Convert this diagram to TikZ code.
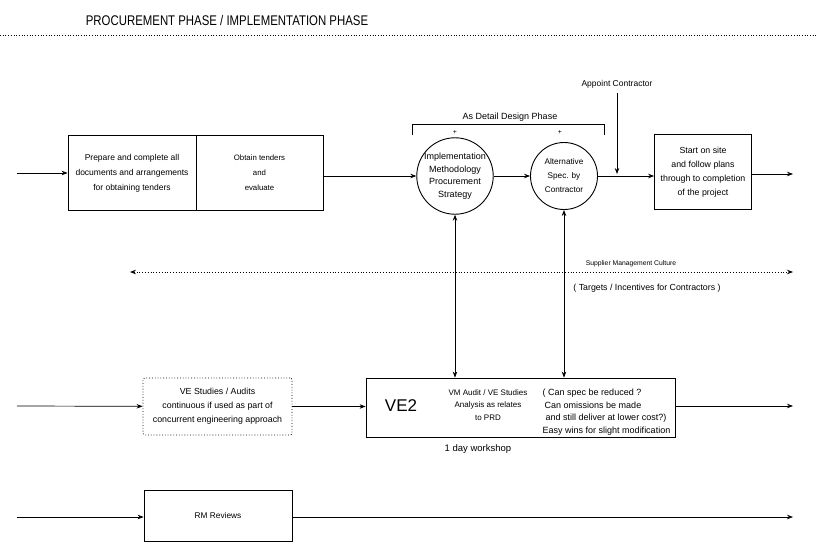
\documentclass[tikz,border=0pt]{standalone}
\usepackage{fontspec}
\usepackage{graphicx}
\setmainfont{Liberation Sans}
\usetikzlibrary{arrows.meta}
\newcommand{\fs}[1]{\fontsize{#1}{#1}\selectfont}
\begin{document}
\begin{tikzpicture}[x=1pt,y=-1pt,
  >={Stealth[length=6pt,width=4.5pt]},
  line width=0.6pt,
  small/.style={font=\fontsize{8.5}{14}\selectfont, align=center, inner sep=0pt},
  boxnode/.style={draw, line width=0.8pt, small},
  circnode/.style={draw, circle, line width=0.9pt, minimum size=67pt, inner sep=0pt, align=center},
  flow/.style={->, line width=0.7pt}]
\useasboundingbox (0,0) rectangle (817,544);

% title and separator
\node[inner sep=0pt] (title) at (227,20) {\scalebox{0.815}[1]{\fontsize{14}{14}\selectfont PROCUREMENT PHASE / IMPLEMENTATION PHASE}};
\coordinate (sepL) at (0,35);
\coordinate (sepR) at (817,35);
\draw[dotted, line width=0.7pt] (sepL) -- (sepR);

% top row
\coordinate (in1) at (17,173);
\node[boxnode, minimum width=128pt, minimum height=75pt, font=\fontsize{8.5}{15}\selectfont] (prep) at (132,173) {Prepare and complete all\\documents and arrangements\\for obtaining tenders};
\node[boxnode, minimum width=127pt, minimum height=75pt, font=\fontsize{7.8}{15}\selectfont] (obtain) at (259.5,173) {Obtain tenders\\and\\evaluate};
\node[circnode, font=\fontsize{9}{12.5}\selectfont] (impl) at (455,176) {Implementation\\Methodology\\Procurement\\Strategy};
\node[circnode, font=\fontsize{8.2}{14}\selectfont] (alt) at (564,176) {Alternative\\Spec. by\\Contractor};
\node[boxnode, minimum width=97pt, minimum height=75pt, font=\fontsize{8.8}{14}\selectfont] (start) at (703,172) {Start on site\\and follow plans\\through to completion\\of the project};
\coordinate (out1) at (793,174);

\draw[flow] (in1) -- (prep);
\draw[flow] (obtain.east |- impl.west) -- (impl.west);
\draw[flow] (impl) -- (alt);
\draw[flow] (alt.east) -- (alt.east -| start.west);
\draw[flow] (start.east |- out1) -- (out1);

% appoint contractor
\node[small, font=\fs{8.5}] (appoint) at (617,84) {Appoint Contractor};
\coordinate (appointEnd) at (617,174);
\draw[flow] ([yshift=-5pt]appoint.south) -- (appointEnd);

% bracket
\node[small, font=\fs{9}] (adp) at (510,117) {As Detail Design Phase};
\coordinate (brL) at (412,135);
\coordinate (brR) at (604,135);
\draw[line width=0.7pt] (brL) -- (412,124) -- (604,124) -- (brR);
\node[inner sep=0pt, font=\fs{7}] (plus1) at (455,132) {+};
\node[inner sep=0pt, font=\fs{7}] (plus2) at (560,132) {+};

% supplier management culture
\coordinate (smL) at (130,272);
\coordinate (smR) at (793,272);
\draw[<->, dotted, line width=0.8pt] (smL) -- (smR);
\node[small, font=\fs{6.8}] (smc) at (631,264) {Supplier Management Culture};
\node[small, font=\fs{8.8}] (targets) at (647,288) {( Targets / Incentives for Contractors )};

% VE row
\coordinate (in2) at (17,406);
\node[boxnode, dotted, rounded corners=2pt, minimum width=149pt, minimum height=57pt, font=\fontsize{8.8}{14}\selectfont] (ves) at (217.5,406.5) {VE Studies / Audits\\continuous if used as part of\\concurrent engineering approach};
\node[draw, line width=0.8pt, minimum width=309pt, minimum height=59pt, inner sep=0pt] (ve2) at (520.5,407.5) {};
\node[inner sep=0pt, font=\fs{17}] (ve2lab) at (401,406) {VE2};
\node[small, font=\fontsize{8}{12.5}\selectfont] (vmaudit) at (488,405) {VM Audit / VE Studies\\Analysis as relates\\to PRD};
\node[small, align=left, font=\fontsize{9}{12.5}\selectfont] (canspec) at (606.5,412) {( Can spec be reduced ?\\\hspace*{2pt}Can omissions be made\\\hspace*{3pt}and still deliver at lower cost?)\\Easy wins for slight modification};
\node[small, font=\fs{9.5}] (workshop) at (478,449) {1 day workshop};
\coordinate (out2) at (793,406);

\draw[flow] (in2) -- (ves);
\draw[flow] (ves.east) -- (ves.east -| ve2.west);
\draw[flow] (ve2.east |- out2) -- (out2);
\draw[<->, line width=0.7pt] (impl.south) -- (impl.south |- ve2.north);
\draw[<->, line width=0.7pt] (alt.south) -- (alt.south |- ve2.north);

% RM row
\coordinate (in3) at (17,517);
\node[boxnode, minimum width=148pt, minimum height=51pt, font=\fs{8.3}] (rm) at (218,515.5) {RM Reviews};
\coordinate (out3) at (793,517);
\draw[flow] (in3) -- (in3 -| rm.west);
\draw[flow] (rm.east |- out3) -- (out3);
\end{tikzpicture}
\end{document}
